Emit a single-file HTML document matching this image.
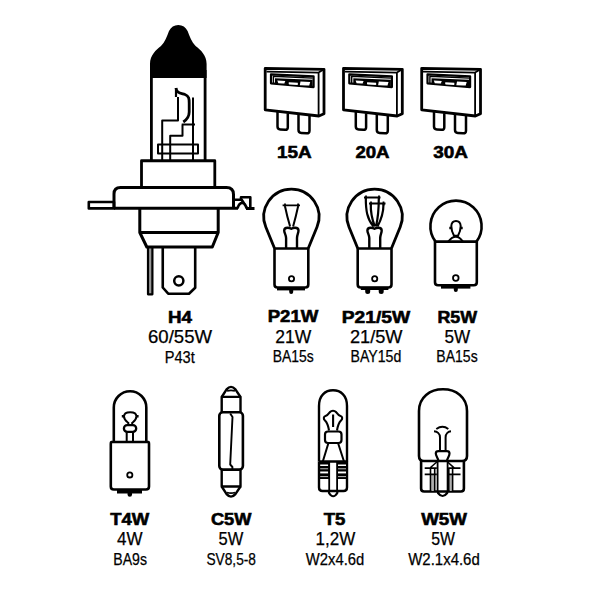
<!DOCTYPE html>
<html><head><meta charset="utf-8">
<style>
html,body{margin:0;padding:0;background:#fff;}
svg{display:block;}
text{font-family:"Liberation Sans",sans-serif;fill:#000;}
.b{font-weight:bold;stroke:#000;stroke-width:0.6;}
.r{stroke:#000;stroke-width:0.25;}
</style></head>
<body>
<svg width="600" height="600" viewBox="0 0 600 600">
<rect width="600" height="600" fill="#fff"/>
<g fill="none" stroke="#000" stroke-linejoin="round" stroke-linecap="butt">

<!-- ============ H4 ============ -->
<path fill="#000" stroke="none" d="M150,78 L150,64 C150,55 156,50 161,46 C165,42 167,36 169,31 C171,27 174,25 178.3,25 C182.6,25 185.6,27 187.6,31 C189.6,36 191.6,42 195.6,46 C200.6,50 206.6,55 206.6,64 L206.6,78 Z"/>
<path stroke-width="2.8" d="M151.4,70 V160.5 M205.1,70 V160.5"/>
<path stroke-width="2" d="M162.2,160 V120.6 H178 V97 M170.2,160 V135.8 H182.5 V124.6 M181.7,124.6 H195 M193,97.5 V160"/>
<path stroke-width="2.8" d="M176,88 C176.5,93 180,93 185,94.5 C189,96 189.2,99 189.2,103 V112 C189.2,117 187,119.5 183.3,122"/>
<path stroke-width="2.2" d="M176,88 V97"/>
<rect x="158" y="144.5" width="40" height="9" stroke-width="2"/>
<path stroke-width="2.8" d="M141.5,187.5 V160.75 H214.8 V187.5"/>
<path stroke-width="3" d="M114,208.3 V194 Q114,187.5 120.5,187.5 H226.5 Q233.5,187.5 233.5,194.5 V208.3 M114,208.3 H238 M246,208.5 H254.5"/>
<rect x="88.8" y="202" width="25.2" height="6.4" stroke-width="2.6"/>
<path stroke-width="2.6" d="M233.5,199.8 H241 V197.3 H250.3 V208.3 M237.5,208.5 C239.5,201 245,201 246.5,208.5 M241.5,199.5 L247,208"/>
<path stroke-width="3" d="M139.8,208.3 V232.5 L146.8,247 H212.3 L218.2,232.5 V208.3 M139.8,232.5 H218.2"/>
<rect x="148" y="247.5" width="4.4" height="46.8" stroke-width="2.2" fill="#999"/>
<path stroke-width="2.6" d="M162.75,247 V287.5 L168.2,293.7 H189 L195.2,287.8 V247"/>
<circle cx="178.8" cy="280.8" r="4.6" stroke-width="2.5"/>

<!-- ============ FUSES ============ -->
<g id="fuse">
<path stroke-width="2.8" d="M265.2,68.3 L324,69.3 L324,113.7 L318.9,116 L265.2,109.8 Z"/>
<path stroke-width="1.8" d="M266.5,71.7 L318.6,72.6 L324,69.3 M318.6,72.6 V116"/>
<path stroke-width="2.2" d="M271,74.3 L313.6,76.3 L313.6,87.1 L271,83.3 Z"/>
<path stroke-width="1.4" d="M273.4,83 V76.3 L312.6,78.1"/>
<path fill="#000" stroke="none" d="M275,78.3 L312.6,79.8 L312.6,86.3 L275,82.9 Z"/>
<path fill="#fff" stroke="none" d="M277.3,80.6 L285.3,80.9 L284.3,83.6 L278.3,83.2 Z M288.8,82.3 L297.8,82.7 Q298.3,84.9 297.3,85 L289.3,84.6 Q288.3,84.5 288.8,82.3 Z M300.5,81.5 L310.2,81.9 L309.2,85.6 L299.8,85.2 Z"/>
<path stroke-width="2.5" d="M277.5,112 V126.5 Q277.5,129.3 280.3,129.5 L285,129.8 Q287.8,130 287.8,127.2 V113.3 M298.5,114.6 V130 Q298.5,132.8 301.3,133 L306.5,133.3 Q309.5,133.5 309.5,130.7 V116"/>
</g>
<use href="#fuse" x="78.3" y="0"/>
<use href="#fuse" x="156.5" y="0"/>

<!-- ============ P21W ============ -->
<g id="p21">
<path stroke-width="2.8" d="M274.5,248.3 L265.8,227 A27.6,27.6 0 1 1 317,227 L308.3,248.3"/>
<path stroke-width="2.6" d="M274.5,248.5 V284.5 Q274.5,287.5 277.5,287.5 H305.3 Q308.3,287.5 308.3,284.5 V248.5 Z"/>
<circle cx="291.5" cy="278.8" r="2.6" stroke-width="1.8"/>
<path stroke-width="2.4" d="M286.1,248 V238 C286.1,235 284.2,233 284.2,230.5 C284.2,228.3 285.5,227.8 287.5,227.8 C289.5,227.8 290.5,228.3 291.3,228.8 C292.1,228.3 293.1,227.8 295.1,227.8 C297.1,227.8 298.5,228.3 298.5,230.5 C298.5,233 297,235 297,238 V248"/>
</g>
<rect x="277" y="287" width="28" height="3.4" fill="#000" stroke="none"/>
<path stroke-width="4" stroke-linecap="round" d="M291.2,290 V292"/>
<path stroke-width="1.8" d="M282.6,205.4 H300 M285,203.6 V207.2 M298,203.6 V207.2"/><path stroke-width="2" d="M285.1,206.7 Q287,216 290.1,226.5 M298,206.7 Q296,216 293.1,226.5"/>

<!-- ============ P21/5W ============ -->
<use href="#p21" x="83.2" y="0"/>
<rect x="360.8" y="286.8" width="27.6" height="3.2" fill="#000" stroke="none"/>
<path stroke-width="5" stroke-linecap="round" d="M367.7,290 V291.5 M381.2,290 V291.5"/>
<path stroke-width="1.8" d="M364,197.5 H380.5 M366,195.5 V199.5 M379,195.5 V199.5 M369,203.5 H385.5 M371,201.5 V205.5 M383.5,201.5 V205.5 "/><path stroke-width="2.2" d="M365.8,198 C365.8,210 367,219 373.5,226.5 M378.8,198 C378.8,208 378.5,216 376,226.5 M370.8,204 C370.5,212 372,219 374.8,226.5 M383.5,204 C383.5,214 381,220 377.5,226.5"/>

<!-- ============ R5W ============ -->
<path stroke-width="2.6" d="M435.5,241.6 A25.6,25.6 0 1 1 476.5,241.6"/>
<path stroke-width="2.6" d="M435,241.6 V282.3 Q435,285.3 438,285.3 H473.8 Q476.8,285.3 476.8,282.3 V241.6 Z"/>
<circle cx="455.8" cy="278" r="2.8" stroke-width="1.8"/>
<rect x="441" y="285" width="29.4" height="3.6" fill="#000" stroke="none"/>
<path stroke-width="4" stroke-linecap="round" d="M455.8,288 V290"/>
<path stroke-width="2" d="M448.2,241.6 Q456,232 462.9,241.6 M454,235.8 C452,232 451.3,229 451.3,226 C451.5,222.5 453.5,220.9 456,220.9 C458.5,220.9 460.5,222.5 460.7,226 C460.7,229 460,232 458,235.8 Z"/>
<path stroke-width="2.4" d="M449.3,228 H451.5 M460.5,228 H462.7"/>

<!-- ============ T4W ============ -->
<path stroke-width="2.6" d="M113.8,442 V407.5 A16.25,16.25 0 0 1 146.3,407.5 V442"/>
<path stroke-width="2.6" d="M111.5,442 H148.3 Q149,442 149,444 V486.5 Q149,489.5 146,489.5 H113.8 Q110.8,489.5 110.8,486.5 V444 Q110.8,442 111.5,442 Z"/>
<circle cx="129.8" cy="474.9" r="2.6" stroke-width="1.8"/>
<rect x="117" y="489.5" width="25" height="4" fill="#000" stroke="none"/>
<path stroke-width="4.5" stroke-linecap="round" d="M129.8,493 V494.5"/>
<path stroke-width="2" d="M126.7,442 V432.3 M133,442 V432.3 M128.3,424.3 V422.8 C127.2,421.8 124,420.2 124,416.6 C124,413.5 126.5,412.3 130.2,412.3 C133.9,412.3 136.4,413.5 136.4,416.6 C136.4,420.2 133.3,421.8 132.2,422.8 V424.3"/>
<path stroke-width="2.6" d="M121.8,416.3 H124 M136.3,416.3 H138.6"/>
<rect x="123.9" y="425.2" width="12.3" height="6.6" rx="3.3" stroke-width="2.3"/>

<!-- ============ C5W ============ -->
<rect x="219.3" y="412.3" width="23.6" height="57.3" rx="3.5" stroke-width="2.6"/>
<path stroke-width="2.4" d="M221.7,412 V396.9 H240.5 V412 M221.7,470 V486.5 H240.5 V470"/>
<path stroke-width="2.4" d="M221.7,397 L226.6,389.4 Q231,384.4 235.4,389.4 L240.5,397 M221.7,486.5 L226.6,494.1 Q231,499.1 235.4,494.1 L240.5,486.5"/>
<path stroke-width="1.7" d="M227,391 Q231,389.6 235,391 M227,492.5 Q231,493.9 235,492.5"/>
<path stroke-width="1.9" d="M230.2,413.5 L232.5,417 L230.2,464.5 L232.4,467 V470"/>

<!-- ============ T5 ============ -->
<path stroke-width="2.4" d="M319,461.5 V406 C319,395 325.5,390.3 333,390.3 C340.5,390.3 347,395 347,406 V461.5"/>
<path stroke-width="2.4" d="M319,461.5 V487.5 Q319,491 322.5,491 H343.5 Q347,491 347,487.5 V461.5 H319"/>
<rect x="319" y="462" width="10.2" height="17" fill="#000" stroke="none"/>
<rect x="337" y="462" width="10" height="17" fill="#000" stroke="none"/>
<g fill="#fff" stroke="none">
<rect x="320.2" y="464.5" width="8" height="1.5"/><rect x="338" y="464.5" width="8" height="1.5"/>
<rect x="320.2" y="471.5" width="8" height="1.9"/><rect x="338" y="471.5" width="8" height="1.9"/>
</g>
<g fill="#aaa" stroke="none">
<rect x="320.2" y="468.2" width="8" height="1.1"/><rect x="338" y="468.2" width="8" height="1.1"/>
<rect x="320.2" y="476" width="8" height="1.1"/><rect x="338" y="476" width="8" height="1.1"/>
</g>
<path stroke-width="1.8" d="M329.2,462 V491 M337.1,462 V491"/>
<path stroke-width="2.2" d="M329,491 V493 Q333.2,499.5 337.3,493 V491"/>
<path stroke-width="2" d="M328.3,443.5 L322.8,461.5 M338.2,443.5 L344,461.5"/>
<rect x="325" y="431.5" width="16.5" height="11.5" rx="3" stroke-width="2.2"/>
<path stroke-width="2.1" d="M329,430.5 C328.3,426 326.5,422 325,420.5 C323.2,419 323.5,416.5 325.5,416 C327.5,415.5 328.5,414 330,412 C331,411 332,410.8 333,410.8 C334,410.8 335,411 336,412 C337.5,414 338.5,415.5 340.5,416 C342.5,416.5 342.8,419 341,420.5 C339.5,422 337.7,426 337,430.5 M333.1,414.5 V427"/>

<!-- ============ W5W ============ -->
<path stroke-width="2.6" d="M419,456 V411 C419,397 430,389.3 443,389.3 C456,389.3 467,397 467,411 V456 Q467,461 462,461 H424 Q419,461 419,456 Z"/>
<path stroke-width="2.6" d="M421.1,461 V488.5 Q421.1,491.5 424.1,491.5 H460.9 Q463.9,491.5 463.9,488.5 V461"/>
<path stroke-width="1.8" d="M437.6,461 V491.5 M447.6,461 V491.5"/>
<path stroke-width="2.2" d="M438,491.5 V493 Q442.6,499 447.2,493 V491.5"/>
<path stroke-width="2" d="M440,450.5 V437.5 C440,433.5 437,431.5 434,431.3 M445.6,450.5 V437.5 C445.6,433.5 448.5,431.5 451,431.3 M436.3,429 Q442.6,424.5 448.3,429"/>
<path stroke-width="2.2" d="M438.5,461 C438,458 435.8,456 435.8,453.5 Q435.8,451.2 438.5,451.2 H446.8 Q449.5,451.2 449.5,453.5 C449.5,456 447.5,458 446.8,461"/>
<rect x="431.3" y="474" width="2.6" height="17" fill="#b0b0b0" stroke="none"/>
<rect x="449.5" y="474" width="2.4" height="17" fill="#b0b0b0" stroke="none"/>
<path stroke-width="1.6" d="M424.7,468.1 H436.8 M424.7,474.4 H436.8 M430.5,467.5 V491 M434.7,467.5 V491 M430.5,467.5 L436.8,462 M448.4,468.1 H460.5 M448.4,474.4 H460.5 M448.8,467.5 V491 M452.6,467.5 V491 M447.6,462 L454.7,468.3"/>

</g>

<!-- ============ TEXT ============ -->
<g text-anchor="middle">
<text class="b" x="180" y="322.5" font-size="17.4" textLength="24" lengthAdjust="spacingAndGlyphs">H4</text>
<text class="r" x="180" y="342.5" font-size="17.5" textLength="64" lengthAdjust="spacingAndGlyphs">60/55W</text>
<text class="r" x="179.7" y="362.5" font-size="15.9" textLength="30" lengthAdjust="spacingAndGlyphs">P43t</text>

<text class="b" x="293" y="322.4" font-size="17.4" textLength="50.7" lengthAdjust="spacingAndGlyphs">P21W</text>
<text class="r" x="293.2" y="342.5" font-size="17.5" textLength="36" lengthAdjust="spacingAndGlyphs">21W</text>
<text class="r" x="293.3" y="362.4" font-size="15.9" textLength="41" lengthAdjust="spacingAndGlyphs">BA15s</text>

<text class="b" x="376" y="322.5" font-size="17.4" textLength="68.5" lengthAdjust="spacingAndGlyphs">P21/5W</text>
<text class="r" x="376.2" y="342.5" font-size="17.5" textLength="52.5" lengthAdjust="spacingAndGlyphs">21/5W</text>
<text class="r" x="375.9" y="362.4" font-size="15.9" textLength="50.7" lengthAdjust="spacingAndGlyphs">BAY15d</text>

<text class="b" x="457.3" y="322.5" font-size="17.4" textLength="39.7" lengthAdjust="spacingAndGlyphs">R5W</text>
<text class="r" x="457.3" y="342.5" font-size="17.5" textLength="25.7" lengthAdjust="spacingAndGlyphs">5W</text>
<text class="r" x="457" y="362.4" font-size="15.9" textLength="41.4" lengthAdjust="spacingAndGlyphs">BA15s</text>

<text class="b" x="294.3" y="157.5" font-size="17.4" textLength="34.7" lengthAdjust="spacingAndGlyphs">15A</text>
<text class="b" x="372.5" y="157.5" font-size="17.4" textLength="34.2" lengthAdjust="spacingAndGlyphs">20A</text>
<text class="b" x="450.6" y="157.5" font-size="17.4" textLength="34.7" lengthAdjust="spacingAndGlyphs">30A</text>

<text class="b" x="129.8" y="525.2" font-size="17.4" textLength="39" lengthAdjust="spacingAndGlyphs">T4W</text>
<text class="r" x="129.8" y="545" font-size="17.5" textLength="25.5" lengthAdjust="spacingAndGlyphs">4W</text>
<text class="r" x="130.1" y="565.2" font-size="15.9" textLength="33.7" lengthAdjust="spacingAndGlyphs">BA9s</text>

<text class="b" x="231.2" y="525.2" font-size="17.4" textLength="40.5" lengthAdjust="spacingAndGlyphs">C5W</text>
<text class="r" x="230.9" y="545" font-size="17.5" textLength="24.7" lengthAdjust="spacingAndGlyphs">5W</text>
<text class="r" x="231.2" y="565.2" font-size="15.9" textLength="49.5" lengthAdjust="spacingAndGlyphs">SV8,5-8</text>

<text class="b" x="334.6" y="525.2" font-size="17.4" textLength="21.7" lengthAdjust="spacingAndGlyphs">T5</text>
<text class="r" x="335.4" y="545" font-size="17.5" textLength="39.7" lengthAdjust="spacingAndGlyphs">1,2W</text>
<text class="r" x="335" y="565.2" font-size="15.9" textLength="58.5" lengthAdjust="spacingAndGlyphs">W2x4.6d</text>

<text class="b" x="444.1" y="525.2" font-size="17.4" textLength="45.8" lengthAdjust="spacingAndGlyphs">W5W</text>
<text class="r" x="443.2" y="545" font-size="17.5" textLength="23.8" lengthAdjust="spacingAndGlyphs">5W</text>
<text class="r" x="444" y="565.2" font-size="15.9" textLength="71.5" lengthAdjust="spacingAndGlyphs">W2.1x4.6d</text>
</g>
</svg>
</body></html>
